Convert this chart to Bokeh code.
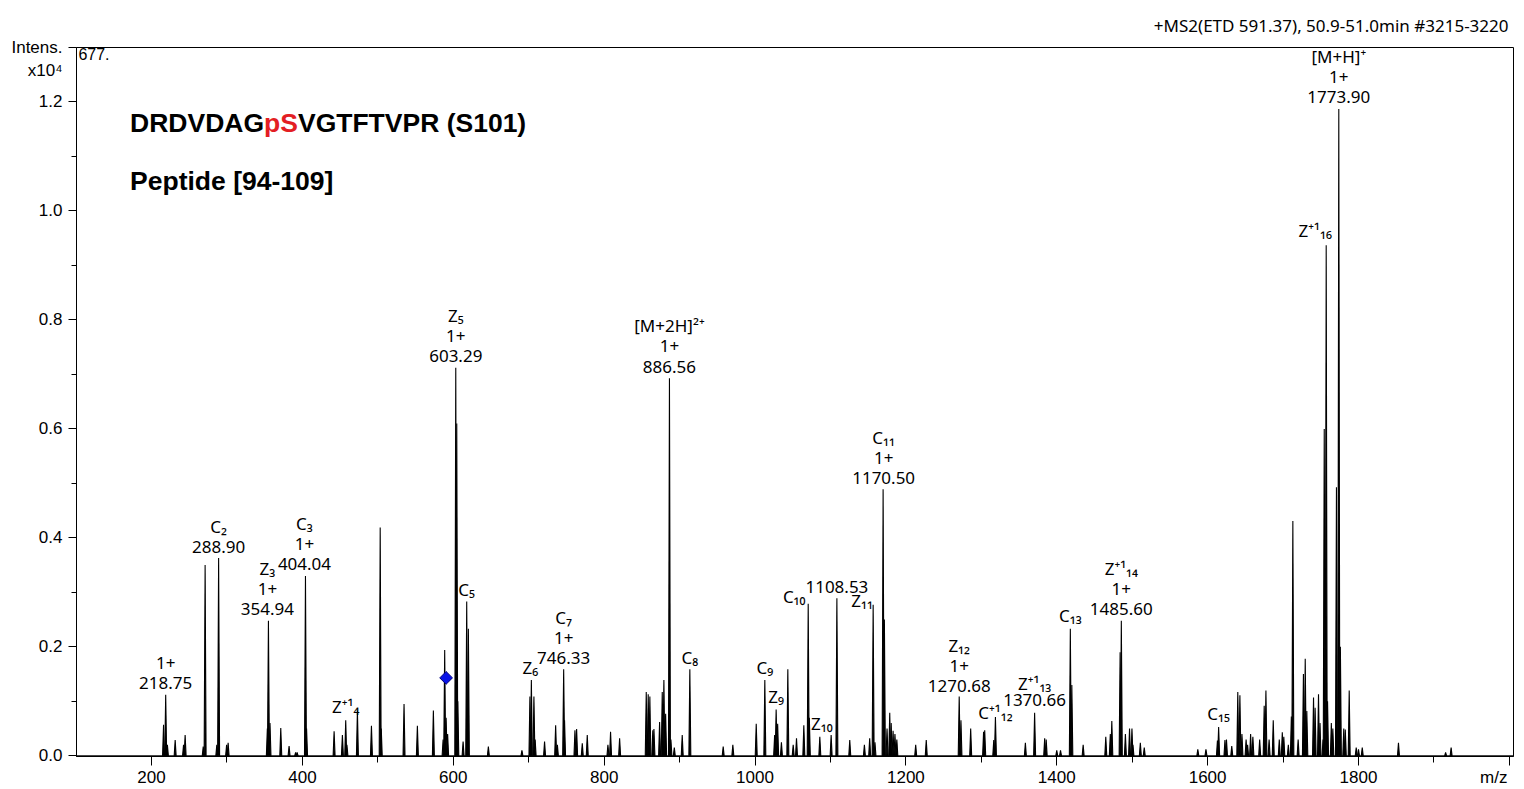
import numpy as np
from bokeh.plotting import figure
from bokeh.models import ColumnDataSource, Range1d, FixedTicker, Label, PrintfTickFormatter, Title
from bokeh.core.properties import value
from bokeh.embed import file_html
from bokeh.resources import INLINE

# ---------------- data (m/z, intensity x10^4) ----------------
peak_mz = [
    215.9, 218.75, 221.0, 231.3, 242.4, 244.5, 268.5, 271.0, 286.5, 288.9, 299.5, 301.5,
    353.5, 354.94, 357.0, 371.3, 382.3, 391.0, 393.0, 404.04, 405.5, 442.0, 453.0, 457.4,
    459.0, 472.9, 491.5, 503.10, 504.5, 534.7, 552.4, 573.6, 586.5, 588.6, 590.5, 592.5,
    603.29, 604.6, 606.0, 613.0, 617.8, 620.0, 646.5,
    691.0, 701.6, 703.5, 706.9, 708.5, 721.0, 735.7, 738.0, 746.33, 747.5, 761.3, 763.5,
    771.0, 777.6, 805.0, 808.5, 820.5, 855.8, 858.4, 860.6, 864.5, 866.0, 873.5, 877.0,
    879.2, 881.5, 886.56, 888.5, 893.0, 903.5, 913.6, 957.8, 970.6,
    1001.6, 1013.0, 1026.0, 1028.0, 1030.0, 1035.0, 1043.5, 1050.6, 1055.0, 1064.7, 1070.5,
    1072.0, 1085.9, 1100.9, 1108.53, 1125.6, 1145.0, 1152.0, 1156.6, 1159.0, 1169.8, 1171.5,
    1175.0, 1178.6, 1180.5, 1183.0, 1185.5, 1188.0, 1213.0, 1227.0, 1270.68, 1273.0, 1285.9,
    1303.0, 1304.5, 1316.5, 1318.7, 1358.4, 1370.66, 1384.0, 1386.0, 1400.0, 1405.0, 1418.0,
    1420.0, 1435.0, 1465.0, 1471.0, 1473.0, 1484.0, 1485.6, 1491.0, 1496.5, 1499.7, 1501.0,
    1510.8, 1516.0,
    1587.0, 1597.8, 1613.0, 1614.6, 1623.0, 1625.0, 1632.0, 1640.0, 1642.8, 1645.5, 1651.0,
    1653.0, 1657.0, 1660.0, 1669.0, 1675.0, 1677.3, 1681.5, 1687.0, 1695.0, 1699.0, 1701.0,
    1707.0, 1711.0, 1713.0, 1720.0, 1727.0, 1729.4, 1731.5, 1740.4, 1742.5, 1747.0, 1749.0,
    1753.0, 1754.6, 1757.2, 1759.0, 1764.0, 1766.0, 1770.8, 1773.9, 1776.0, 1780.5, 1782.5,
    1787.7, 1797.0, 1800.0, 1805.0, 1853.0, 1915.5, 1922.8,
]
peak_int = [
    0.057, 0.112, 0.020, 0.029, 0.020, 0.038, 0.017, 0.350, 0.020, 0.363, 0.020, 0.024,
    0.050, 0.248, 0.060, 0.051, 0.018, 0.006, 0.006, 0.330, 0.050, 0.045, 0.038, 0.065,
    0.020, 0.083, 0.055, 0.419, 0.050, 0.095, 0.055, 0.083, 0.030, 0.194, 0.070, 0.040,
    0.712, 0.610, 0.100, 0.026, 0.283, 0.233, 0.017,
    0.010, 0.109, 0.139, 0.109, 0.030, 0.026, 0.056, 0.020, 0.159, 0.065, 0.047, 0.049,
    0.023, 0.038, 0.020, 0.044, 0.032, 0.117, 0.113, 0.109, 0.047, 0.049, 0.062, 0.117,
    0.139, 0.077, 0.693, 0.030, 0.015, 0.038, 0.159, 0.017, 0.020,
    0.059, 0.139, 0.038, 0.085, 0.059, 0.025, 0.159, 0.020, 0.032, 0.056, 0.279,
    0.070, 0.035, 0.038, 0.289, 0.029, 0.020, 0.032, 0.277, 0.025, 0.489, 0.250,
    0.050, 0.079, 0.060, 0.046, 0.040, 0.030, 0.020, 0.029, 0.109, 0.065, 0.050,
    0.044, 0.047, 0.029, 0.071, 0.024, 0.079, 0.032, 0.030, 0.010, 0.010, 0.233,
    0.130, 0.020, 0.035, 0.040, 0.064, 0.190, 0.248, 0.040, 0.050, 0.050, 0.020,
    0.024, 0.015,
    0.012, 0.012, 0.028, 0.053, 0.029, 0.030, 0.018, 0.117, 0.111, 0.040, 0.030,
    0.020, 0.040, 0.035, 0.030, 0.092, 0.120, 0.030, 0.065, 0.030, 0.043, 0.035,
    0.020, 0.072, 0.431, 0.030, 0.150, 0.178, 0.082, 0.107, 0.088, 0.113, 0.060,
    0.030, 0.600, 0.937, 0.100, 0.060, 0.050, 0.493, 1.187, 0.200, 0.050, 0.048,
    0.120, 0.015, 0.012, 0.015, 0.024, 0.006, 0.015,
]

# annotated peaks: anchor peak m/z, anchor intensity, text lines
label_mz = [218.75, 288.9, 354.94, 404.04, 457.4, 603.29, 617.8, 703.5, 746.33, 886.56,
            913.6, 1013.0, 1028.0, 1070.5, 1085.9, 1108.53, 1156.6, 1170.5, 1270.68,
            1318.7, 1370.66, 1418.0, 1485.6, 1614.6, 1757.2, 1773.9]
label_int = [0.112, 0.363, 0.248, 0.330, 0.065, 0.712, 0.283, 0.139, 0.159, 0.693,
             0.159, 0.139, 0.085, 0.279, 0.035, 0.289, 0.277, 0.489, 0.109,
             0.071, 0.079, 0.233, 0.248, 0.053, 0.937, 1.187]
label_lines = [
    ["1+", "218.75"], ["C\u2082", "288.90"], ["Z\u2083", "1+", "354.94"],
    ["C\u2083", "1+", "404.04"], ["Z\u207a\u00b9\u2084"], ["Z\u2085", "1+", "603.29"],
    ["C\u2085"], ["Z\u2086"], ["C\u2087", "1+", "746.33"],
    ["[M+2H]\u00b2\u207a", "1+", "886.56"], ["C\u2088"], ["C\u2089"], ["Z\u2089"],
    ["C\u2081\u2080"], ["Z\u2081\u2080"], ["1108.53"], ["Z\u2081\u2081"],
    ["C\u2081\u2081", "1+", "1170.50"], ["Z\u2081\u2082", "1+", "1270.68"],
    ["C\u207a\u00b9\u2081\u2082"], ["Z\u207a\u00b9\u2081\u2083", "1370.66"], ["C\u2081\u2083"],
    ["Z\u207a\u00b9\u2081\u2084", "1+", "1485.60"], ["C\u2081\u2085"], ["Z\u207a\u00b9\u2081\u2086"],
    ["[M+H]\u207a", "1+", "1773.90"],
]
precursor_mz = [590.5]
precursor_int = [0.143]

x_major = [200, 400, 600, 800, 1000, 1200, 1400, 1600, 1800, 2000]
x_minor = [100, 300, 500, 700, 900, 1100, 1300, 1500, 1700, 1900]
y_major = [0.0, 0.2, 0.4, 0.6, 0.8, 1.0, 1.2, 1.3]
y_minor = [0.1, 0.3, 0.5, 0.7, 0.9, 1.1]

# ---------------- layout (pixel offsets of labels) ----------------
label_dx = [0, 0, -1, -1, 0, 0, 0, -1, 0, 0, 0, 0, 0, -14, 2, 0, -11, 0, 0, 0, 0, 0, 0, 0, -11, 0]
label_dy = [11.5, 11.5, 11.5, 11.5, 14, 11.5, 12, 13, 11, 11.5, 12, 13, 13, 7, 13, 11.5, 4,
            11, 10, 5, 12.5, 13, 11.5, 13, 15, 12]
line_step = [20.5] * len(label_mz)
line_step[20] = 17

FONT_LBL = "Noto Sans"
FONT_AX = "Liberation Sans"

p = figure(width=1524, height=789, output_backend="svg", toolbar_location=None,
           x_range=Range1d(100.5, 2005.5), y_range=Range1d(-0.0013, 1.30),
           min_border_left=76, min_border_right=11, min_border_top=47, min_border_bottom=33)
p.background_fill_color = "white"
p.border_fill_color = "white"
p.outline_line_color = "black"
p.outline_line_width = 1
p.xgrid.visible = False
p.ygrid.visible = False

# spectrum as narrow profile peaks
hw = 1.3
xs = [[m - hw, m, m + hw] for m in peak_mz]
ys = [[0.0, h, 0.0] for h in peak_int]
p.patches(xs=xs, ys=ys, fill_color="black", line_color="black", line_width=1.1)
p.segment(x0=[100.5], y0=[0.0], x1=[2005.5], y1=[0.0], line_color="black", line_width=1)

# precursor marker
p.scatter(x=precursor_mz, y=precursor_int, marker="square", angle=np.pi / 4, size=9,
          fill_color="#0a14e6", line_color="#00007a", line_width=1)

# peak labels
tx, ty, tt, tdx, tdy = [], [], [], [], []
for m, h, lines, dx, dy, st in zip(label_mz, label_int, label_lines, label_dx, label_dy, line_step):
    n = len(lines)
    for k, s in enumerate(lines):
        tx.append(m)
        ty.append(h)
        tt.append(s)
        tdx.append(dx)
        tdy.append(-(dy + st * (n - 1 - k)))
src = ColumnDataSource(dict(x=tx, y=ty, text=tt, dx=tdx, dy=tdy))
p.text(x="x", y="y", text="text", x_offset="dx", y_offset="dy", source=src,
       text_font=value(FONT_LBL), text_font_size="17px", text_align="center",
       text_baseline="middle", text_color="black")

# axes
for ax in (p.xaxis[0], p.yaxis[0]):
    ax.axis_line_color = "black"
    ax.major_tick_line_color = "black"
    ax.minor_tick_line_color = "black"
    ax.major_tick_in = 0
    ax.minor_tick_in = 0
    ax.major_label_text_font = FONT_AX
    ax.major_label_text_font_size = "17px"
    ax.major_label_text_color = "black"

p.xaxis.ticker = FixedTicker(ticks=x_major, minor_ticks=x_minor)
p.xaxis.major_label_overrides = {2000: "m/z\u2002\u2002"}
p.xaxis.major_tick_out = 9
p.xaxis.minor_tick_out = 6
p.xaxis.major_label_standoff = 2

p.yaxis.ticker = FixedTicker(ticks=y_major, minor_ticks=y_minor)
p.yaxis.formatter = PrintfTickFormatter(format="%.1f")
p.yaxis.major_label_overrides = {1.3: "\u2002\nIntens.\nx10\u2074"}
p.yaxis.major_tick_out = 8
p.yaxis.minor_tick_out = 5
p.yaxis.major_label_standoff = 6

# header (title panel)
p.add_layout(Title(text="+MS2(ETD 591.37), 50.9-51.0min #3215-3220", align="right",
                   text_font=FONT_LBL, text_font_size="17px", text_font_style="normal",
                   text_color="black", offset=5, standoff=21), "above")

p.add_layout(Label(x=103.0, y=1.2875, text="677.", text_font=FONT_AX, text_font_size="16px",
                   text_align="left", text_baseline="middle", text_color="black"))

# peptide titles
for txt, off, col in (("DRDVDAG", 0, "black"), ("pS", 134.0, "#e31e24"),
                      ("VGTFTVPR (S101)", 167.9, "black")):
    p.add_layout(Label(x=171.5, y=1.1623, x_offset=off, text=txt, text_font=FONT_AX,
                       text_font_size="26.5px", text_font_style="bold", text_align="left",
                       text_baseline="middle", text_color=col))
p.add_layout(Label(x=171.5, y=1.0541, text="Peptide [94-109]", text_font=FONT_AX,
                   text_font_size="26.5px", text_font_style="bold", text_align="left",
                   text_baseline="middle", text_color="black"))

open("out.html", "w").write(file_html(p, INLINE))
